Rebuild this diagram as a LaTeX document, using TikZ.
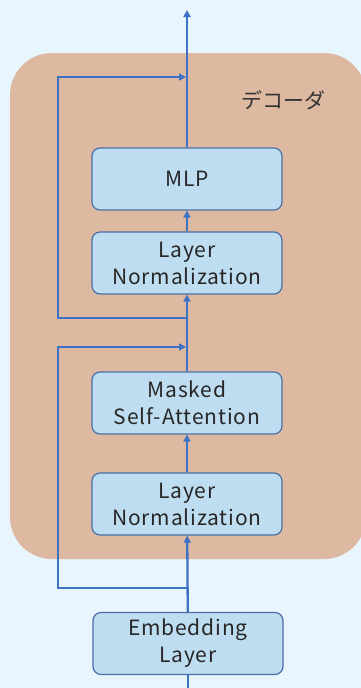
\documentclass[tikz,border=0pt]{standalone}
\usepackage{fontspec}
\setmainfont{Noto Sans CJK JP}
\newfontfamily\boxfont[LetterSpace=4]{Noto Sans CJK JP}
\usetikzlibrary{arrows.meta}
\definecolor{bgblue}{HTML}{E8F5FC}
\definecolor{decfill}{HTML}{DDB9A2}
\definecolor{boxfill}{HTML}{BFDDF0}
\definecolor{boxline}{HTML}{4A6FA8}
\definecolor{flow}{HTML}{3D72C4}
\tikzset{
  block/.style={draw=boxline, line width=1.2pt, fill=boxfill, rounded corners=8pt,
    minimum width=190pt, minimum height=62pt, align=center,
    font=\boxfont\fontsize{21}{27}\selectfont, text=black!85},
  flowline/.style={draw=flow, line width=2.3pt},
  flowarrow/.style={flowline, -{Triangle[length=7pt,width=7pt]}},
}
\begin{document}
\begin{tikzpicture}[x=1pt,y=-1pt]
	\useasboundingbox (0,0) rectangle (361,688);
	\fill[bgblue] (0,0) rectangle (361,688);
	\fill[decfill, rounded corners=42pt] (10,53) rectangle (366,559);
	\node[font=\fontsize{21}{21}\selectfont, text=black!80] (declabel) at (283,100) {デコーダ};
	\node[block] (emb) at (188,643.5) {Embedding\\Layer};
	\node[block] (norma) at (187,504) {Layer\\Normalization};
	\node[block] (attn) at (187,403) {Masked\\Self-Attention};
	\node[block] (normb) at (187,263) {Layer\\Normalization};
	\node[block] (mlp) at (187,179) {MLP};
	\coordinate (in) at (188,688);
	\coordinate (splita) at (188,588);
	\coordinate (joina) at (187,347);
	\coordinate (splitb) at (187,318);
	\coordinate (joinb) at (187,77);
	\coordinate (out) at (187,10);
	\draw[flowline] (in) -- (emb);
	\draw[flowarrow] (emb) -- (norma);
	\draw[flowarrow] (norma) -- (attn);
	\draw[flowarrow] (attn) -- (normb);
	\draw[flowarrow] (normb) -- (mlp);
	\draw[flowarrow] (mlp) -- (out);
	\draw[flowarrow, shorten >=1pt] (splita) -- (58,588) |- (joina);
	\draw[flowarrow, shorten >=1pt] (splitb) -- (58,318) |- (joinb);
\end{tikzpicture}
\end{document}
